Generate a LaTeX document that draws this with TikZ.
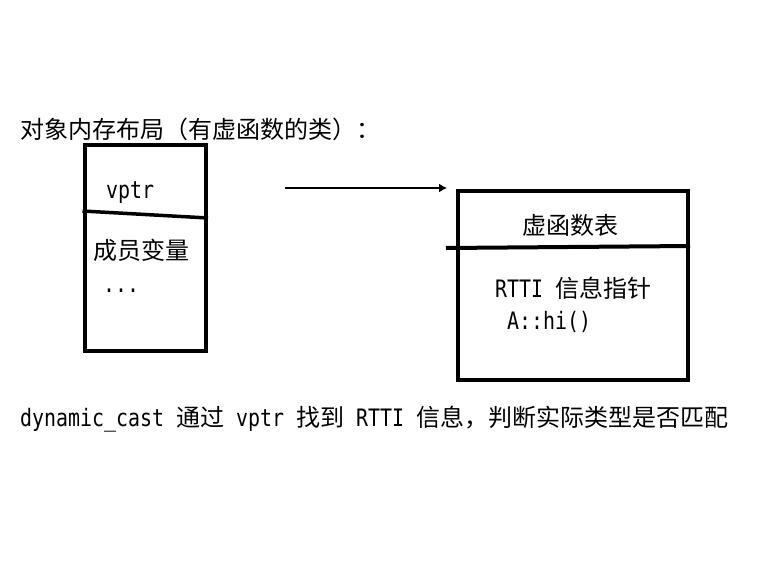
\documentclass[tikz,border=0pt]{standalone}
\usepackage{fontspec}
\setmainfont{Noto Sans CJK SC}
\newfontfamily\monofont[FakeStretch=0.83]{DejaVu Sans Mono}
\usepackage{tikz}
\usetikzlibrary{arrows.meta, positioning, calc}
\tikzset{
  memcell/.style={rectangle, draw=black, line width=4pt, inner sep=0pt},
  lbl/.style={font=\fontsize{24}{28}\selectfont, inner sep=0pt, anchor=base west},
  split/.style={line width=3.5pt, color=black},
  ptr/.style={-{Latex[length=8pt, width=9pt]}, line width=1.3pt, color=black}
}

\begin{document}
\begin{tikzpicture}[x=1pt, y=-1pt]
  \useasboundingbox (0,0) rectangle (769,562);
  % Title
  \node[lbl] (title) at (20,138) {对象内存布局（有虚函数的类）：};

  % Object layout
  \node[memcell, minimum width=121.5pt, minimum height=206.5pt] (obj) at (145.25,247.75) {};
  \draw[split] (obj.west |- 0,211) -- (obj.east |- 0,218);
  \node[lbl] (vptr) at (106,198) {\monofont vptr};
  \node[lbl] (members) at (93,259) {成员变量};
  \node[lbl] (dots) at (103,292) {\monofont ...};

  % Pointer to the table
  \coordinate (ptrtail) at (285,188);
  \coordinate (ptrhead) at (447,188);
  \draw[ptr] (ptrtail) -- (ptrhead);

  % Virtual function table
  \node[memcell, minimum width=230.5pt, minimum height=189pt] (tbl) at (572.75,285.5) {};
  \coordinate (tblcut) at (446,248);
  \draw[split, line width=4pt] (tblcut) -- (tbl.east |- 0,246);
  \node[lbl] (tblname) at (522,234) {虚函数表};
  \node[lbl] (rtti) at (495,297) {{\monofont RTTI }信息指针};
  \node[lbl] (hifn) at (507,329) {\monofont A::hi()};

  % Note
  \node[lbl] (note) at (20,426) {{\monofont dynamic\_cast }通过{\monofont\ vptr }找到{\monofont\ RTTI }信息，判断实际类型是否匹配};
\end{tikzpicture}
\end{document}
